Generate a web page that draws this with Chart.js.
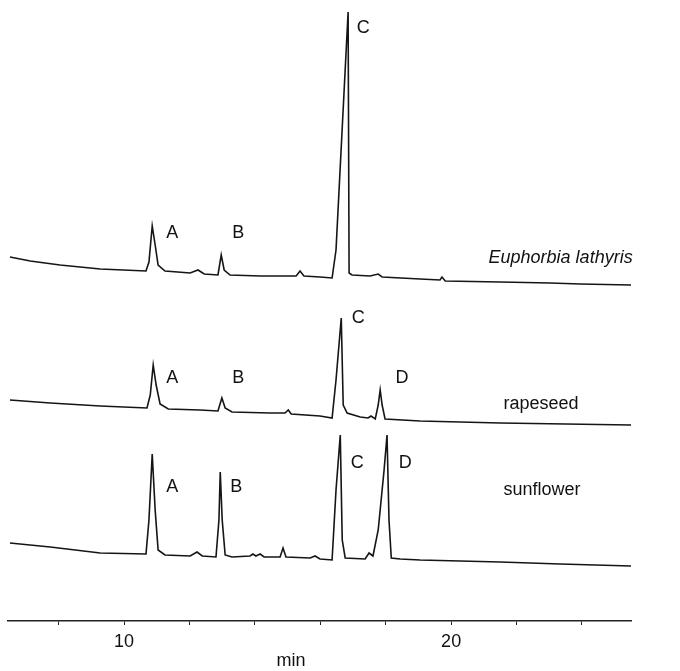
<!DOCTYPE html>
<html>
<head>
<meta charset="utf-8">
<script src="https://cdn.jsdelivr.net/npm/chart.js@4.4.0/dist/chart.umd.min.js"></script>
<style>
  body { margin: 0; background: #fff; }
  #wrap { width: 680px; height: 671px; }
</style>
</head>
<body>
<div id="wrap"><canvas id="grafico1"></canvas></div>
<script>
// retention time (min) and detector signal, one pair of arrays per oil
var euphorbiaTime = [6.51, 7.13, 8.04, 9.27, 10.67, 10.76, 10.86, 10.95, 11.04, 11.25, 12.02, 12.26, 12.45, 12.87, 12.97, 13.06, 13.24, 14.16, 15.26, 15.38, 15.5, 15.99, 16.36, 16.48, 16.85, 16.88, 16.97, 17.52, 17.77, 17.89, 19.05, 19.66, 19.72, 19.82, 21.5, 23.03, 23.94, 25.53];
var euphorbiaSignal = [364, 360, 356, 352, 350, 359, 395, 376, 356, 350, 348, 351, 347, 346, 366, 351, 346, 345, 345, 350, 345, 344, 343, 371, 609, 348, 346, 345, 347, 344, 342, 341, 344, 340, 339, 338, 337, 336];

var rapeseedTime = [6.51, 7.74, 9.27, 10.7, 10.8, 10.89, 10.98, 11.1, 11.35, 12.32, 12.87, 12.99, 13.09, 13.3, 14.46, 14.92, 15.02, 15.11, 15.99, 16.36, 16.48, 16.64, 16.7, 16.82, 17.22, 17.46, 17.55, 17.68, 17.77, 17.83, 17.89, 17.98, 19.05, 21.5, 25.53];
var rapeseedSignal = [221, 218, 215, 213, 226, 256, 236, 217, 212, 211, 210, 223, 213, 209, 208, 208, 211, 207, 205, 203, 241, 303, 216, 208, 204, 203, 205, 202, 216, 231, 216, 202, 200, 198, 196];

var sunflowerTime = [6.51, 7.74, 9.27, 10.67, 10.76, 10.86, 10.95, 11.04, 11.25, 12.02, 12.23, 12.39, 12.81, 12.9, 12.94, 13.0, 13.09, 13.3, 13.85, 13.94, 14.03, 14.16, 14.28, 14.77, 14.86, 14.95, 15.69, 15.84, 15.99, 16.36, 16.48, 16.61, 16.67, 16.76, 17.37, 17.49, 17.61, 17.77, 17.95, 18.04, 18.1, 18.17, 18.44, 19.05, 21.5, 23.33, 25.53];
var sunflowerSignal = [78, 74, 68, 67, 101, 167, 111, 71, 66, 65, 69, 65, 64, 101, 149, 101, 66, 64, 65, 67, 65, 67, 64, 64, 73, 64, 63, 65, 62, 61, 131, 186, 81, 63, 62, 68, 65, 91, 151, 186, 101, 63, 62, 61, 59, 57, 55];

// peak letters [text, time, signal]
var peakLabels = [
  ['A', 11.47, 388], ['B', 13.49, 388], ['C', 17.31, 593],
  ['A', 11.47, 243], ['B', 13.49, 243], ['C', 17.16, 303], ['D', 18.5, 243],
  ['A', 11.47, 134], ['B', 13.43, 134], ['C', 17.13, 158], ['D', 18.6, 158]
];
// trace names [text, time, signal, align, italic]
var traceNames = [
  ['Euphorbia lathyris', 25.55, 363, 'right', true],
  ['rapeseed', 21.6, 217, 'left', false],
  ['sunflower', 21.6, 131, 'left', false]
];
var axisTitle = ['min', 15.1, -40];

var tickValues = [8, 10, 12, 14, 16, 18, 20, 22, 24];
var tickLabels = [10, 20];

var fontFam = '"Liberation Sans", Arial, sans-serif';

function toPoints(t, s) {
  return t.map(function (v, i) { return { x: v, y: s[i] }; });
}

var textPlugin = {
  id: 'textos',
  afterDatasetsDraw: function (chart) {
    var ctx = chart.ctx;
    var sx = chart.scales.x, sy = chart.scales.y;
    ctx.save();
    ctx.fillStyle = '#111';
    ctx.textBaseline = 'middle';
    ctx.font = '18px ' + fontFam;
    ctx.textAlign = 'center';
    peakLabels.forEach(function (p) {
      ctx.fillText(p[0], sx.getPixelForValue(p[1]), sy.getPixelForValue(p[2]));
    });
    ctx.fillText(axisTitle[0], sx.getPixelForValue(axisTitle[1]), sy.getPixelForValue(axisTitle[2]));
    traceNames.forEach(function (n) {
      ctx.font = (n[4] ? 'italic ' : '') + '18px ' + fontFam;
      ctx.textAlign = n[3];
      ctx.fillText(n[0], sx.getPixelForValue(n[1]), sy.getPixelForValue(n[2]));
    });
    ctx.restore();
  }
};

function lineSet(label, t, s) {
  return {
    label: label,
    data: toPoints(t, s),
    borderColor: '#151515',
    borderWidth: 1.6,
    pointRadius: 0,
    tension: 0,
    fill: false
  };
}

var ctx = document.getElementById('grafico1').getContext('2d');
window.grafica = new Chart(ctx, {
  type: 'line',
  data: {
    datasets: [
      lineSet('Euphorbia lathyris', euphorbiaTime, euphorbiaSignal),
      lineSet('rapeseed', rapeseedTime, rapeseedSignal),
      lineSet('sunflower', sunflowerTime, sunflowerSignal)
    ]
  },
  options: {
    responsive: true,
    maintainAspectRatio: false,
    animation: false,
    layout: { padding: { left: 8, right: 49, top: 0, bottom: 0 } },
    plugins: {
      legend: { display: false },
      tooltip: { enabled: false }
    },
    scales: {
      x: {
        type: 'linear',
        min: 6.45,
        max: 25.5,
        afterBuildTicks: function (s) {
          s.ticks = tickValues.map(function (v) { return { value: v }; });
        },
        afterFit: function (s) { s.height = 50; },
        grid: { drawOnChartArea: false, drawTicks: true, tickLength: 4, color: '#222', lineWidth: 1 },
        border: { display: true, color: '#222', width: 1.5 },
        ticks: {
          autoSkip: false,
          maxRotation: 0,
          padding: 6,
          color: '#111',
          font: { size: 18, family: fontFam },
          callback: function (v) { return tickLabels.indexOf(v) >= 0 ? v : ''; }
        }
      },
      y: {
        display: false,
        min: 0,
        max: 621
      }
    }
  },
  plugins: [textPlugin]
});
</script>
</body>
</html>
